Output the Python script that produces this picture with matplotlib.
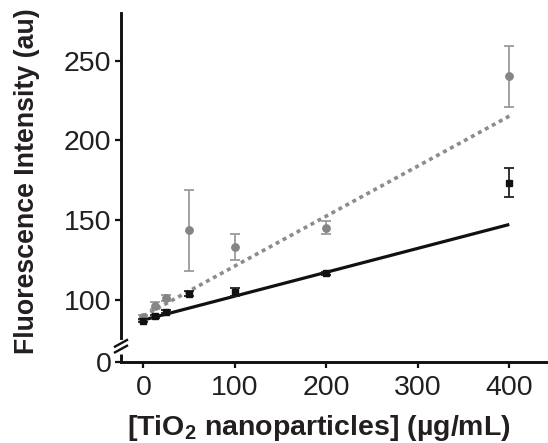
import matplotlib
matplotlib.use("Agg")
import matplotlib.pyplot as plt
import matplotlib.transforms as mtransforms
import numpy as np

plt.rcParams['font.family'] = ['Liberation Sans', 'DejaVu Sans']
plt.rcParams['mathtext.fontset'] = 'custom'
plt.rcParams['mathtext.rm'] = 'Liberation Sans:bold'
plt.rcParams['mathtext.default'] = 'rm'

# ---- data ----
conc = [0, 12.5, 25, 50, 100, 200, 400]
gray_mean = [89.0, 96.5, 101.3, 143.6, 133.1, 145.2, 240.4]
gray_err_lo = [1.5, 2.0, 2.0, 25.5, 8.2, 4.0, 19.3]
gray_err_hi = [1.5, 2.0, 2.0, 25.3, 8.1, 4.2, 19.0]
black_mean = [87.0, 89.8, 92.6, 104.0, 105.0, 116.7, 173.5]
black_err = [1.0, 1.0, 1.0, 1.5, 2.5, 1.0, 9.0]
fit_range = [0, 400]
black_fit = [87.4, 0.1498]   # intercept, slope
gray_fit = [89.9, 0.3134]    # intercept, slope
xticks = [0, 100, 200, 300, 400]
yticks = [100, 150, 200, 250]
ylabels = ['100', '150', '200', '250']
zero_label = '0'
xlabel = r"[TiO$_{2}$ nanoparticles] (µg/mL)"
ylabel = "Fluorescence Intensity (au)"

# ---- layout ----
W, H = 548, 443
fig = plt.figure(figsize=(W / 100, H / 100), dpi=100)
ax = fig.add_axes([121 / W, 1 - 361.5 / H, (W - 121) / W, (361.5 - 12.7) / H])

ylo, yhi = 61.4, 280.1
ax.set_xlim(-24.4, 442.3)
ax.set_ylim(ylo, yhi)

dark = '#231f20'
gray_pt = '#858585'
gray_eb = '#9b9b9b'
gray_ln = '#8c8c8c'

xf = np.array(fit_range, dtype=float)
ax.plot(xf, gray_fit[0] + gray_fit[1] * xf, color=gray_ln, lw=2.6,
        linestyle=(0, (1.1, 1.1)), zorder=2)
ax.plot(xf, black_fit[0] + black_fit[1] * xf, color='#111111', lw=2.3,
        solid_capstyle='butt', zorder=3)

ax.errorbar(conc, gray_mean, yerr=[gray_err_lo, gray_err_hi], fmt='o',
            color=gray_pt, ecolor=gray_eb, elinewidth=1.3, capsize=3.5,
            capthick=1.3, ms=5.3, zorder=4)
ax.errorbar(conc, black_mean, yerr=black_err, fmt='s',
            color='#111111', ecolor='#222222', elinewidth=1.3, capsize=3.5,
            capthick=1.3, ms=4.6, zorder=5)

for s in ['top', 'right']:
    ax.spines[s].set_visible(False)
for s in ['left', 'bottom']:
    ax.spines[s].set_linewidth(2.1)
    ax.spines[s].set_color('#111111')

# y-axis break
gap_top, gap_bot = 76.1, 66.0
ax.spines['left'].set_bounds(gap_top, yhi)
trans = mtransforms.blended_transform_factory(ax.transAxes, ax.transData)
ax.plot([0, 0], [ylo, gap_bot], transform=trans, color='#111111', lw=2.1,
        clip_on=False, solid_capstyle='butt')
px = 1.0 / (W - 121)
py = 1.0 / 1.593
bc = 70.8
for off in (2.0, -1.6):
    ax.plot([-6 * px, 6 * px], [bc + off - 3.3 * py, bc + off + 3.3 * py],
            transform=trans, color='#111111', lw=1.7, clip_on=False)

ax.set_xticks(xticks)
ax.set_xticklabels([str(v) for v in xticks])
ax.set_yticks([ylo] + yticks)
ax.set_yticklabels([zero_label] + ylabels)
ax.tick_params(axis='both', direction='out', length=4.5, width=1.6,
               colors='#111111', labelsize=20.5, labelcolor=dark)
ax.tick_params(axis='y', pad=2.5)
ax.tick_params(axis='x', pad=5.5)

fig.text(27 / W, 1 - 181.5 / H, ylabel, rotation=90, ha='center', va='center',
         fontsize=19.3, fontweight='bold', color=dark)
fig.text(319 / W, 1 - 428 / H, xlabel, ha='center', va='center',
         fontsize=20.5, fontweight='bold', color=dark)

fig.savefig('out.png', dpi=100)
